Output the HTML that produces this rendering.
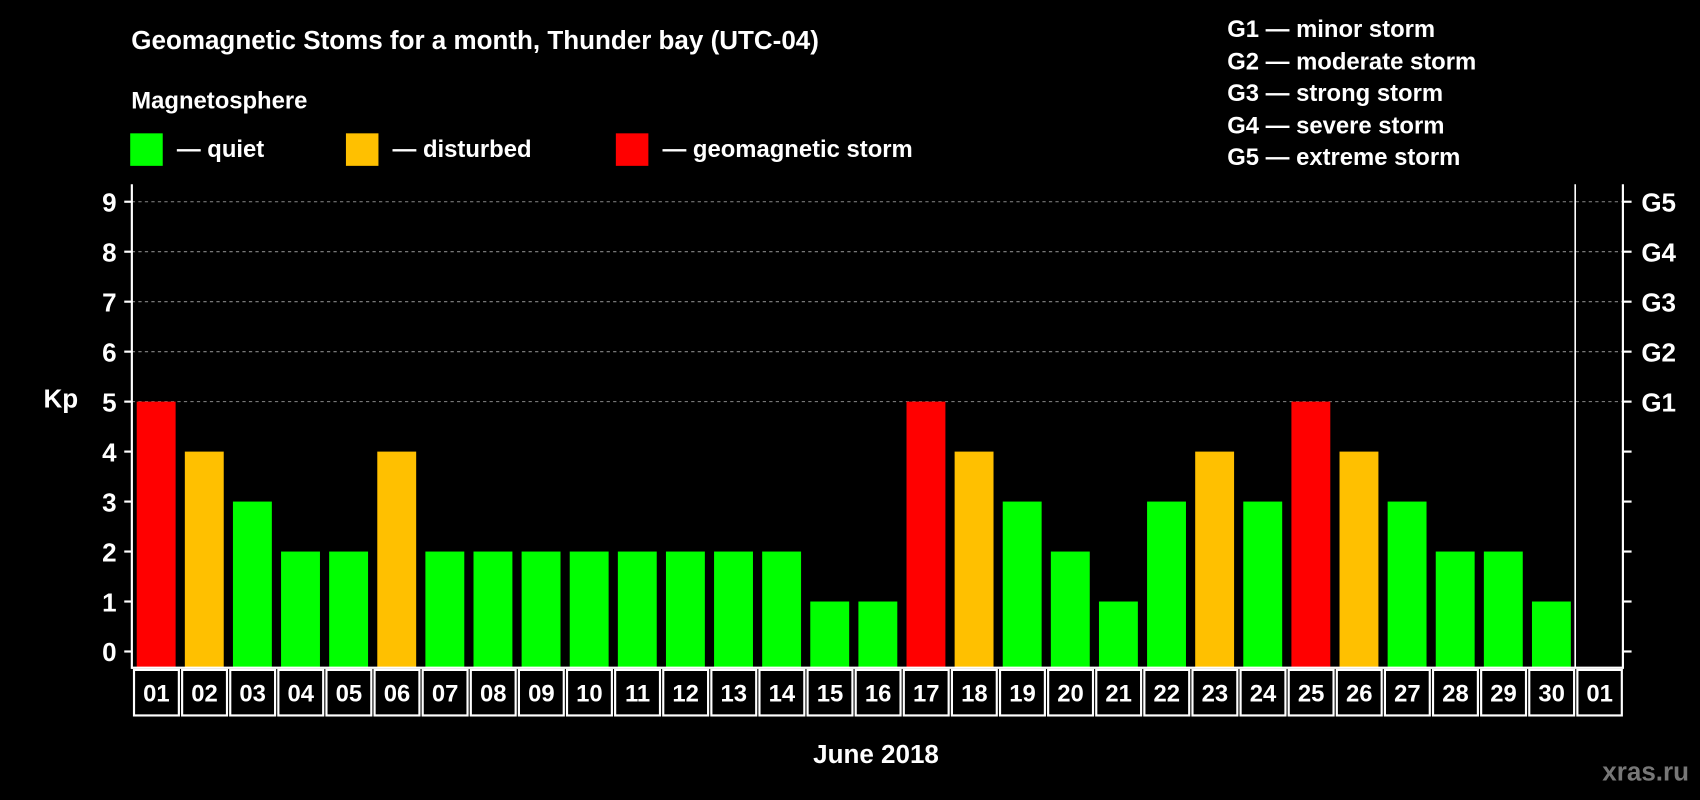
<!DOCTYPE html>
<html><head><meta charset="utf-8"><style>
html,body{margin:0;padding:0;background:#000;}
svg{display:block;}
text{font-family:"Liberation Sans",sans-serif;font-weight:bold;fill:#fff;}
</style></head><body>
<svg id="chart" width="1700" height="800" viewBox="0 0 1568 738" xmlns="http://www.w3.org/2000/svg">
<rect width="1568" height="738" fill="#000"/>
<text x="121" y="45" font-size="24">Geomagnetic Stoms for a month, Thunder bay (UTC-04)</text>
<text x="121" y="100" font-size="22">Magnetosphere</text>
<g><rect x="120" y="123" width="30" height="30" fill="#00ff00"/><text x="163" y="145" font-size="22">— quiet</text></g>
<g><rect x="319" y="123" width="30" height="30" fill="#ffc000"/><text x="362" y="145" font-size="22">— disturbed</text></g>
<g><rect x="568" y="123" width="30" height="30" fill="#ff0000"/><text x="611" y="145" font-size="22">— geomagnetic storm</text></g>
<g font-size="22">
<text x="1132" y="34">G1 — minor storm</text>
<text x="1132" y="64">G2 — moderate storm</text>
<text x="1132" y="93">G3 — strong storm</text>
<text x="1132" y="123">G4 — severe storm</text>
<text x="1132" y="152">G5 — extreme storm</text>
</g>
<text x="40" y="376" font-size="24">Kp</text>
<text x="808" y="704" font-size="24" text-anchor="middle">June 2018</text>
<text x="1558" y="720" font-size="24" text-anchor="end" fill="#777" style="fill:#777">xras.ru</text>
<g id="plot"></g>
</svg>
<script>
const days=["01","02","03","04","05","06","07","08","09","10","11","12","13","14","15","16","17","18","19","20","21","22","23","24","25","26","27","28","29","30","01"];
const kp=[5,4,3,2,2,4,2,2,2,2,2,2,2,2,1,1,5,4,3,2,1,3,4,3,5,4,3,2,2,1];
const yTicks=[0,1,2,3,4,5,6,7,8,9];
const gLabels=["G1","G2","G3","G4","G5"];
const NS="http://www.w3.org/2000/svg";
const g=document.getElementById('plot');
const L=121.5,R=1497,T=170,B=616,slotW=(1453-121.5)/30;
const y=v=>601-v*46.1;
const x=i=>L+i*slotW;
function mk(t,a){const e=document.createElementNS(NS,t);for(const k in a)e.setAttribute(k,a[k]);g.appendChild(e);return e;}
yTicks.forEach(v=>{
  if(v>=5){const l=mk('line',{x1:L,x2:R,y1:y(v),y2:y(v),stroke:'#888','stroke-dasharray':'3,3','stroke-width':1});
  
  }
  mk('line',{x1:L-7,x2:L,y1:y(v),y2:y(v),stroke:'#fff','stroke-width':2});
  mk('line',{x1:R,x2:R+8,y1:y(v),y2:y(v),stroke:'#fff','stroke-width':2});
  const t=mk('text',{x:L-14,y:y(v)+9,'font-size':24,'text-anchor':'end'});t.textContent=v;
  
  
});
gLabels.forEach((s,i)=>{const t=mk('text',{x:R+17,y:y(5+i)+9,'font-size':24});t.textContent=s;
  
  });
kp.forEach((v,i)=>{
  const c=v>=5?'#ff0000':(v>=4?'#ffc000':'#00ff00');
  const r=mk('rect',{x:x(i)+4.5,y:y(v),width:slotW-8.5,height:B-y(v),fill:c});
  
  
});
mk('line',{x1:L,x2:L,y1:T,y2:B+1,stroke:'#fff','stroke-width':2});
mk('line',{x1:R,x2:R,y1:T,y2:B+1,stroke:'#fff','stroke-width':2});
mk('line',{x1:L,x2:R,y1:B,y2:B,stroke:'#fff','stroke-width':2});
mk('line',{x1:1453,x2:1453,y1:T,y2:B,stroke:'#fff','stroke-width':1.5});
days.forEach((d,i)=>{
  const x0=x(i)+2,x1=(i==30?R:x(i+1))-1;
  const r=mk('rect',{x:x0,y:618,width:x1-x0,height:42,fill:'none',stroke:'#fff','stroke-width':2});
  
  
  const t=mk('text',{x:(x0+x1)/2,y:647,'font-size':22,'text-anchor':'middle'});t.textContent=d;
  
  
});
</script>
</body></html>
